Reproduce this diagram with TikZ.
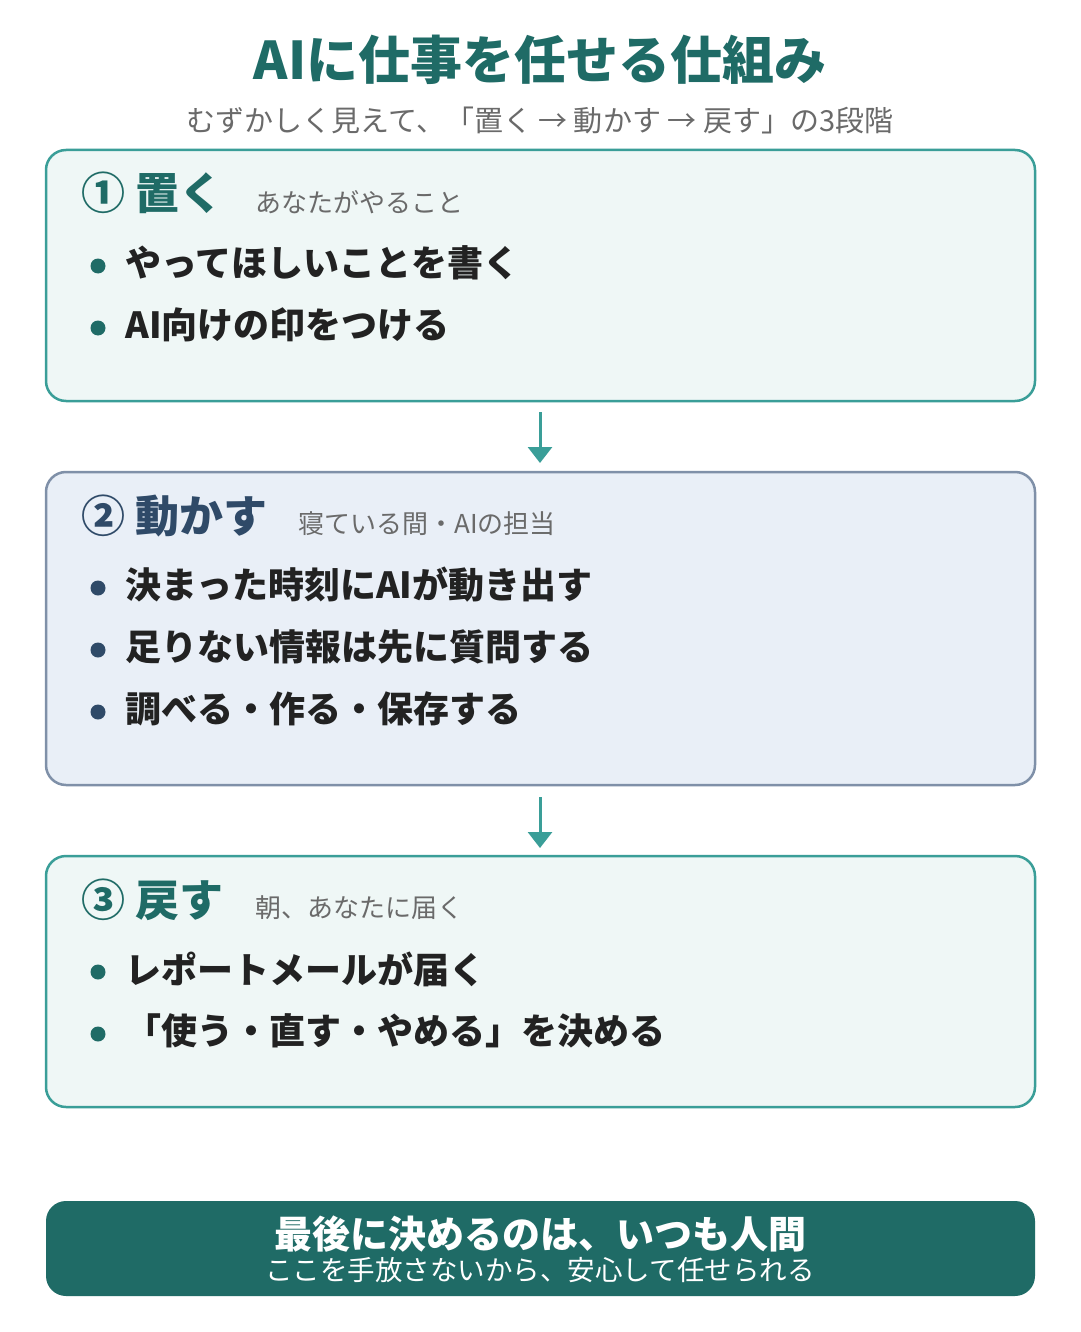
\documentclass[tikz,border=0pt]{standalone}
\usepackage{fontspec}
\setmainfont{Noto Sans CJK JP}
\usetikzlibrary{arrows.meta}
\definecolor{teal1}{HTML}{1F6B66}
\definecolor{tealb}{HTML}{3A9E98}
\definecolor{tealf}{HTML}{EFF7F6}
\definecolor{blueb}{HTML}{7F90A8}
\definecolor{bluef}{HTML}{E9EFF7}
\definecolor{slate}{HTML}{2F4A68}
\definecolor{gr}{HTML}{6A6A6A}
\definecolor{txt}{HTML}{222222}
\newcommand{\fs}[1]{\fontsize{#1}{#1}\selectfont}
\tikzset{
 box/.style={rounded corners=20pt,line width=2.5pt},
 head/.style={anchor=west,font=\fs{44}\bfseries},
 sub/.style={anchor=west,font=\fs{26},text=gr},
 item/.style={anchor=west,font=\fs{36}\bfseries,text=txt},
 dot/.style={circle,inner sep=0pt,minimum size=15pt},
 arr/.style={-{Triangle[width=24pt,length=16pt]},line width=3pt,draw=tealb}
}
\begin{document}
\begin{tikzpicture}[x=1pt,y=-1pt]
\useasboundingbox[fill=white] (0,0) rectangle (1080,1332);
\node[font=\fs{52}\bfseries,text=teal1] (t) at (540,60) {AIに仕事を任せる仕組み};
\node[font=\fs{29},text=gr] (st) at (540,120) {むずかしく見えて、「置く → 動かす → 戻す」の3段階};
% box1
\draw[box,draw=tealb,fill=tealf] (46,150) rectangle (1035,401);
\node[head,text=teal1] (h1) at (78,193) {① 置く};
\node[sub] (s1) at (252,202) {あなたがやること};
\node[dot,fill=teal1] (d11) at (98,266) {}; \node[item] (i11) at (122,263) {やってほしいことを書く};
\node[dot,fill=teal1] (d12) at (98,328) {}; \node[item] (i12) at (122,325) {AI向けの印をつける};
% box2
\draw[box,draw=blueb,fill=bluef] (46,472) rectangle (1035,785);
\node[head,text=slate] (h2) at (78,516) {② 動かす};
\node[sub] (s2) at (295,524) {寝ている間・AIの担当};
\node[dot,fill=slate] (d21) at (98,588) {}; \node[item] (i21) at (122,585) {決まった時刻にAIが動き出す};
\node[dot,fill=slate] (d22) at (98,650) {}; \node[item] (i22) at (122,647) {足りない情報は先に質問する};
\node[dot,fill=slate] (d23) at (98,712) {}; \node[item] (i23) at (122,709) {調べる・作る・保存する};
% box3
\draw[box,draw=tealb,fill=tealf] (46,856) rectangle (1035,1107);
\node[head,text=teal1] (h3) at (78,900) {③ 戻す};
\node[sub] (s3) at (252,908) {朝、あなたに届く};
\node[dot,fill=teal1] (d31) at (98,972) {}; \node[item] (i31) at (122,969) {レポートメールが届く};
\node[dot,fill=teal1] (d32) at (98,1034) {}; \node[item] (i32) at (122,1031) {「使う・直す・やめる」を決める};
% arrows
\coordinate (a1s) at (540,412); \coordinate (a1e) at (540,463);
\coordinate (a2s) at (540,797); \coordinate (a2e) at (540,848);
\draw[arr] (a1s) -- (a1e);
\draw[arr] (a2s) -- (a2e);
% bottom
\node[rounded corners=20pt,fill=teal1,minimum width=989pt,minimum height=95pt] (bar) at (540.5,1248.5) {};
\node[font=\fs{38}\bfseries,text=white] (bt1) at (540,1234) {最後に決めるのは、いつも人間};
\node[font=\fs{27.5},text=white] (bt2) at (540,1270) {ここを手放さないから、安心して任せられる};
\end{tikzpicture}
\end{document}
